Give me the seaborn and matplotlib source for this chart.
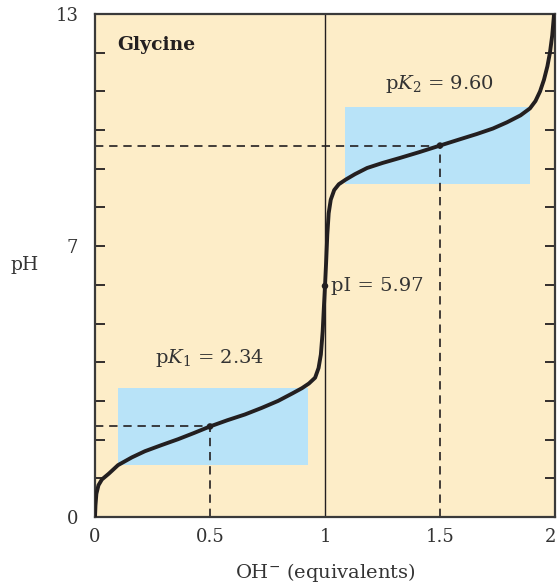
import matplotlib
matplotlib.use("Agg")
import matplotlib.pyplot as plt
import seaborn as sns
import pandas as pd
from matplotlib.patches import Rectangle
from matplotlib.ticker import FixedLocator
import matplotlib.transforms as mtransforms

# ---- data ----
equivalents = [0, 0.002, 0.006, 0.015, 0.03, 0.06, 0.10, 0.16, 0.217, 0.29, 0.361,
               0.43, 0.5, 0.575, 0.652, 0.725, 0.796, 0.86, 0.90, 0.93, 0.957, 0.972,
               0.982, 0.99, 0.995, 1.0, 1.005, 1.01, 1.016, 1.025, 1.04, 1.06, 1.09,
               1.13, 1.183, 1.25, 1.326, 1.41, 1.5, 1.58, 1.661, 1.73, 1.791, 1.85,
               1.891, 1.915, 1.935, 1.952, 1.967, 1.978, 1.988, 1.996]
ph_values = [0, 0.3, 0.6, 0.82, 0.97, 1.12, 1.34, 1.54, 1.70, 1.86, 2.01,
             2.17, 2.34, 2.5, 2.65, 2.82, 3.0, 3.2, 3.33, 3.45, 3.6, 3.85,
             4.2, 4.8, 5.4, 5.97, 6.6, 7.3, 7.85, 8.2, 8.45, 8.6, 8.72,
             8.86, 9.02, 9.15, 9.28, 9.43, 9.60, 9.75, 9.90, 10.04, 10.2, 10.38,
             10.56, 10.75, 11.0, 11.3, 11.65, 12.0, 12.45, 13.0]

pK1, pK2, pI = 2.34, 9.60, 5.97
x_ticks = [0, 0.5, 1, 1.5, 2]
x_tick_labels = ["0", "0.5", "1", "1.5", "2"]
y_ticks = [0, 7, 13]
y_tick_labels = ["0", "7", "13"]
y_minor = list(range(0, 14))
buffer1_x = [0.10, 0.925]
buffer2_x = [1.087, 1.89]

bg = "#FDEDC8"
blue = "#B8E3F8"
ink = "#231F20"
txt = "#333333"

sns.set_style("ticks")
plt.rcParams["font.family"] = ["DejaVu Serif"]
plt.rcParams["mathtext.fontset"] = "dejavuserif"

fig = plt.figure(figsize=(5.58, 5.85), dpi=100)
ax = fig.add_axes([95/558, 1 - 517/585, 460/558, 503/585])
ax.set_facecolor(bg)

# buffer regions
ax.add_patch(Rectangle((buffer1_x[0], pK1 - 1), buffer1_x[1] - buffer1_x[0], 2,
                       facecolor=blue, edgecolor="none", zorder=1))
ax.add_patch(Rectangle((buffer2_x[0], pK2 - 1), buffer2_x[1] - buffer2_x[0], 2,
                       facecolor=blue, edgecolor="none", zorder=1))

# reference lines
ax.axvline(1, color=ink, lw=1.0, zorder=2)
dash = (0, (5, 3.5))
ax.plot([0, 0.5], [pK1, pK1], color=ink, lw=1.2, ls=dash, zorder=2)
ax.plot([0.5, 0.5], [0, pK1], color=ink, lw=1.2, ls=dash, zorder=2)
ax.plot([0, 1.5], [pK2, pK2], color=ink, lw=1.2, ls=dash, zorder=2)
ax.plot([1.5, 1.5], [0, pK2], color=ink, lw=1.2, ls=dash, zorder=2)

df = pd.DataFrame({"eq": equivalents, "pH": ph_values})
sns.lineplot(data=df, x="eq", y="pH", sort=False, color=ink, lw=2.8, ax=ax, zorder=3)
line = ax.get_lines()[-1]
line.set_solid_joinstyle("round")
line.set_clip_on(True)
sns.scatterplot(x=[0.5, 1.0, 1.5], y=[pK1, pI, pK2], color=ink, s=22,
                edgecolor="none", ax=ax, zorder=4)

ax.set_xlim(0, 2)
ax.set_ylim(0, 13)
ax.set_xticks(x_ticks)
ax.set_xticklabels(x_tick_labels)
ax.set_yticks(y_ticks)
ax.set_yticklabels(y_tick_labels)
ax.yaxis.set_minor_locator(FixedLocator(y_minor))
ax.tick_params(axis="x", length=0, labelsize=13, pad=8, colors=txt)
ax.tick_params(axis="y", which="both", direction="in", length=7, width=1.3,
               left=True, right=True, labelsize=13, pad=12, colors=ink)
for lbl in ax.get_yticklabels():
    lbl.set_color(txt)
last = ax.get_xticklabels()[-1]
last.set_transform(last.get_transform() + mtransforms.ScaledTranslation(-5/100, 0, fig.dpi_scale_trans))
for s in ax.spines.values():
    s.set_visible(True)
    s.set_linewidth(1.6)
    s.set_color("#3a3a3a")

ax.set_xlabel(r"OH$^{-}$ (equivalents)", fontsize=14, color=txt, labelpad=11)
ax.set_ylabel("pH", fontsize=13.5, color=txt, rotation=0, labelpad=22, va="center")

ax.text(0.095, 12.2, "Glycine", fontsize=13.5, fontweight="bold", color=ink,
        va="center", ha="left")
ax.text(1.5, 11.2, r"p$K_2$ = 9.60", fontsize=14, color=txt, ha="center", va="center")
ax.text(0.5, 4.1, r"p$K_1$ = 2.34", fontsize=14, color=txt, ha="center", va="center")
ax.text(1.025, 5.97, "pI = 5.97", fontsize=14, color=txt, ha="left", va="center",
        bbox=dict(facecolor=bg, edgecolor="none", pad=0.5))

fig.savefig("out.png", dpi=100)
